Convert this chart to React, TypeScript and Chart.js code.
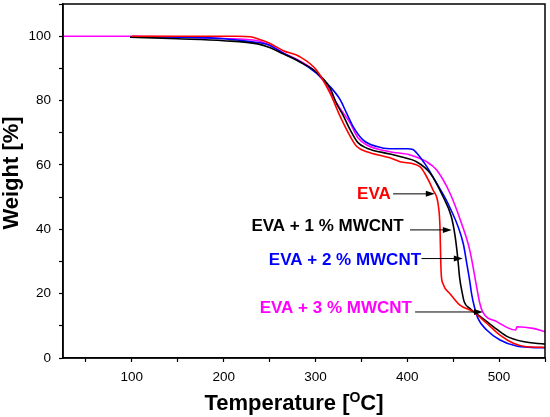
import { useEffect, useRef } from 'react';
import { Chart, registerables } from 'chart.js';
Chart.register(...registerables);

// TGA curves (temperature in °C, weight in %)
const evaTemp = [100, 150, 200, 215, 229, 240, 250, 265, 283, 301, 316, 327, 338, 345, 356, 381, 392, 414, 419, 428, 434, 435.6, 436.4, 437, 439, 446.5, 457, 471.6, 486.5, 501, 515.5, 530, 550];
const evaWeight = [100, 100, 100, 100, 99.8, 98.9, 97.8, 95.5, 93.6, 89.5, 82.2, 75, 68.8, 65.7, 64.1, 62.2, 61, 59.4, 57.4, 52.2, 47, 40.8, 30.5, 26, 23, 20, 16.5, 14.4, 10.8, 7.1, 4.6, 3.5, 3.3];

const cnt1Temp = [98, 150, 200, 237, 250, 265, 283, 301, 316, 323, 330, 338, 346, 356, 381, 392, 410, 425, 439, 448, 452, 455, 457, 460, 462, 468, 479, 494, 508, 526, 550];
const cnt1Weight = [99.7, 99.2, 98.6, 97.6, 96.5, 94.5, 92, 88.8, 83.8, 79, 75.5, 70.8, 67, 65.2, 63.4, 62.6, 61, 57.4, 50.1, 43.9, 38, 31, 25, 20, 17.5, 15.4, 13, 9.7, 6.8, 5.1, 4.3];

const cnt2Temp = [100, 150, 200, 229, 250, 265, 283, 301, 316, 327, 334, 341, 352, 367, 381, 400, 406, 410, 420, 432, 446, 461, 465, 468, 470, 473, 477, 486.5, 501, 519, 535, 550];
const cnt2Weight = [99.9, 99.7, 99.2, 98.3, 97.2, 94.7, 92.1, 88.5, 84.3, 80.2, 76, 71.9, 67.7, 65.7, 65, 65, 64.8, 63.8, 60, 54.3, 47, 35.5, 29, 24, 20, 16, 12.3, 8.7, 5.6, 3.7, 3.3, 3.2];

const cnt3Temp = [25, 100, 150, 200, 237, 250, 265, 283, 301, 316, 319, 327, 338, 346, 356, 381, 403, 421, 432, 446.5, 459, 468, 475.6, 479, 482, 497.5, 518, 519.5, 537, 550];
const cnt3Weight = [100, 100, 99.8, 99.3, 98.6, 97.2, 94.8, 92.3, 88.7, 83, 81.2, 77.5, 72.9, 68.5, 66.2, 64.1, 63.1, 61, 58.4, 51.2, 41.9, 33.6, 22, 17, 14.4, 11.3, 8.7, 9.7, 9.2, 8.2];

const seriesNames = ['EVA', 'EVA + 1 % MWCNT', 'EVA + 2 % MWCNT', 'EVA + 3 % MWCNT'];
const seriesColors = ['#ff0000', '#000000', '#0000ff', '#ff00ff'];

// callout labels, in data units: text right end, arrow start/end
const callouts = [
  { tx: 382, ty: 51, x0: 384.5, x1: 430, ay: 51 },
  { tx: 396, ty: 41, x0: 403, x1: 448.5, ay: 39.8 },
  { tx: 415, ty: 30.5, x0: 415.5, x1: 460.5, ay: 30.9 },
  { tx: 405, ty: 15.5, x0: 408.5, x1: 482.5, ay: 14.3 },
];

const FONT = "'Liberation Sans', Arial, sans-serif";

const pts = (t: number[], w: number[]) => t.map((x, i) => ({ x, y: w[i] }));

const decorations = {
  id: 'decorations',
  afterDraw(chart: any) {
    const { ctx, chartArea: a } = chart;
    const xs = chart.scales.x;
    const ys = chart.scales.y;
    ctx.save();
    ctx.strokeStyle = '#000';
    ctx.lineWidth = 1.5;
    ctx.strokeRect(a.left, a.top, a.right - a.left, a.bottom - a.top);

    // callouts
    ctx.font = `bold 17px ${FONT}`;
    ctx.textAlign = 'right';
    ctx.textBaseline = 'middle';
    callouts.forEach((c, i) => {
      ctx.fillStyle = seriesColors[i];
      ctx.fillText(seriesNames[i], xs.getPixelForValue(c.tx), ys.getPixelForValue(c.ty));
      const px0 = xs.getPixelForValue(c.x0);
      const px1 = xs.getPixelForValue(c.x1);
      const py = ys.getPixelForValue(c.ay);
      ctx.strokeStyle = '#000';
      ctx.lineWidth = 1;
      ctx.beginPath();
      ctx.moveTo(px0, py);
      ctx.lineTo(px1 - 4, py);
      ctx.stroke();
      ctx.fillStyle = '#000';
      ctx.beginPath();
      ctx.moveTo(px1, py);
      ctx.lineTo(px1 - 9, py - 3);
      ctx.lineTo(px1 - 9, py + 3);
      ctx.closePath();
      ctx.fill();
    });

    // axis titles
    ctx.fillStyle = '#000';
    ctx.textBaseline = 'alphabetic';
    ctx.save();
    ctx.translate(18, 173);
    ctx.rotate(-Math.PI / 2);
    ctx.textAlign = 'center';
    ctx.font = `bold 22px ${FONT}`;
    ctx.fillText('Weight [%]', 0, 0);
    ctx.restore();

    const big = `bold 22px ${FONT}`;
    const small = `bold 14px ${FONT}`;
    const p1 = 'Temperature [';
    const p2 = 'O';
    const p3 = 'C]';
    ctx.font = big;
    const w1 = ctx.measureText(p1).width;
    const w3 = ctx.measureText(p3).width;
    ctx.font = small;
    const w2 = ctx.measureText(p2).width;
    let x = 294 - (w1 + w2 + w3) / 2;
    ctx.textAlign = 'left';
    ctx.font = big;
    ctx.fillText(p1, x, 410);
    x += w1;
    ctx.font = small;
    ctx.fillText(p2, x, 402);
    x += w2;
    ctx.font = big;
    ctx.fillText(p3, x, 410);
    ctx.restore();
  },
};

export default function App() {
  const canvasRef = useRef<HTMLCanvasElement>(null);
  useEffect(() => {
    if (canvasRef.current === null) return;
    const sets = [
      pts(evaTemp, evaWeight),
      pts(cnt1Temp, cnt1Weight),
      pts(cnt2Temp, cnt2Weight),
      pts(cnt3Temp, cnt3Weight),
    ];
    const chart = new Chart(canvasRef.current, {
      type: 'scatter',
      data: {
        datasets: sets.map((d, i) => ({
          label: seriesNames[i],
          data: d,
          showLine: true,
          borderColor: seriesColors[i],
          backgroundColor: seriesColors[i],
          borderWidth: 1.6,
          pointRadius: 0,
          cubicInterpolationMode: 'monotone' as const,
        })),
      },
      options: {
        animation: false,
        responsive: true,
        maintainAspectRatio: false,
        layout: { padding: { left: 0, right: 5, top: 4, bottom: 0 } },
        plugins: { legend: { display: false }, tooltip: { enabled: false } },
        scales: {
          x: {
            type: 'linear',
            min: 25,
            max: 550,
            afterFit: (s: any) => {
              s.height = 59;
              s.paddingLeft = 0;
              s.paddingRight = 0;
            },
            border: { color: '#000', width: 1.5 },
            grid: { drawOnChartArea: false, drawTicks: true, tickLength: 4, tickColor: '#000', tickWidth: 1.2 },
            ticks: {
              stepSize: 50,
              includeBounds: false,
              autoSkip: false,
              maxRotation: 0,
              padding: 7,
              color: '#000',
              font: { family: FONT, size: 13.5 },
              callback: (v: any) => (v % 100 === 0 ? String(v) : ''),
            },
          },
          y: {
            min: 0,
            max: 110,
            afterFit: (s: any) => {
              s.width = 63;
              s.paddingTop = 0;
              s.paddingBottom = 0;
            },
            border: { color: '#000', width: 1.5 },
            grid: { drawOnChartArea: false, drawTicks: true, tickLength: 4, tickColor: '#000', tickWidth: 1.2 },
            ticks: {
              stepSize: 10,
              autoSkip: false,
              padding: 8,
              color: '#000',
              font: { family: FONT, size: 13.5 },
              callback: (v: any) => (v % 20 === 0 ? String(v) : ''),
            },
          },
        },
      },
      plugins: [decorations],
    });
    return () => {
      chart.destroy();
    };
  }, []);

  return (
    <div style={{ position: 'absolute', left: 0, top: 0, width: 550, height: 417 }}>
      <canvas ref={canvasRef}></canvas>
    </div>
  );
}
